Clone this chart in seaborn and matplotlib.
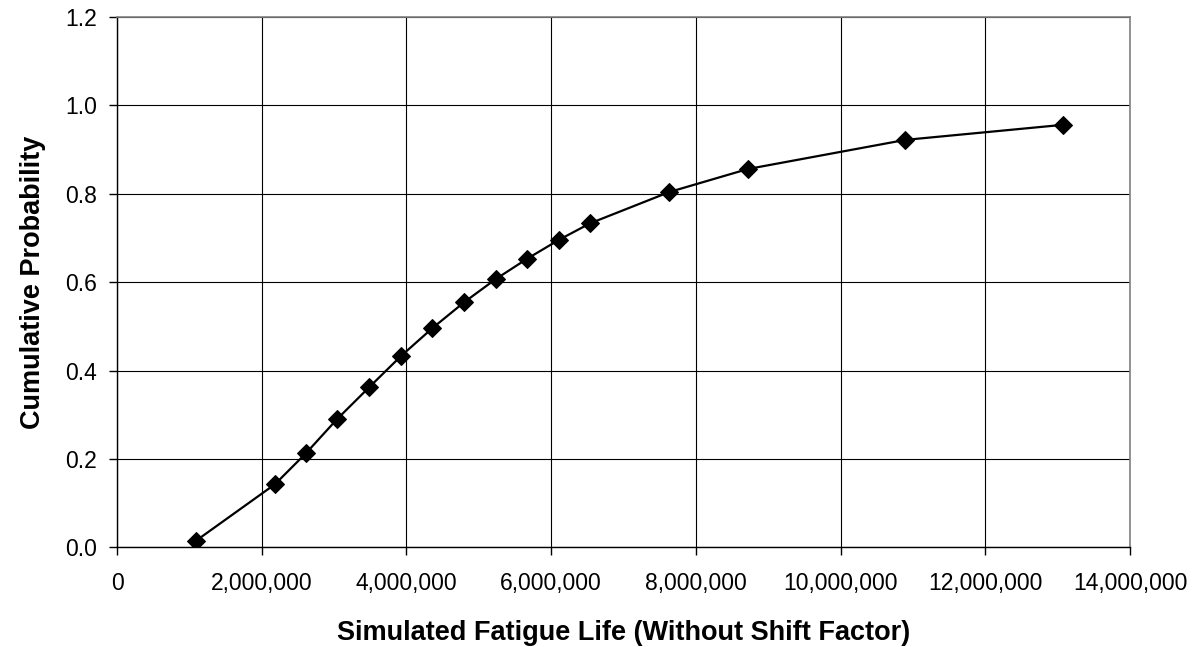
# 累积概率曲线
import matplotlib
matplotlib.use('Agg')
import matplotlib.pyplot as plt
import pandas as pd
import seaborn as sns
from matplotlib.ticker import FuncFormatter

# 数据
fatigue_life = [1092000, 2184000, 2617000, 3040000, 3483000, 3925000, 4358000, 4800000,
                5233000, 5667000, 6109000, 6535000, 7632000, 8715000, 10894000, 13068000]
cum_prob = [0.015, 0.143, 0.214, 0.290, 0.362, 0.433, 0.496, 0.555,
            0.607, 0.653, 0.696, 0.733, 0.804, 0.856, 0.922, 0.956]

x_ticks = [0, 2000000, 4000000, 6000000, 8000000, 10000000, 12000000, 14000000]
y_ticks = [0.0, 0.2, 0.4, 0.6, 0.8, 1.0, 1.2]

data = pd.DataFrame({'life': fatigue_life, 'prob': cum_prob})


def plot_cdf():
    fig = plt.figure(figsize=(12, 6.47), dpi=100)
    ax = fig.add_axes([0.0975, 0.154, 0.8443, 0.8197])

    sns.lineplot(data=data, x='life', y='prob', ax=ax, color='black', linewidth=1.6,
                 marker='D', markersize=9, markeredgecolor='black', markerfacecolor='black')

    ax.set_xlim(0, 14000000)
    ax.set_ylim(0, 1.2)
    ax.set_xticks(x_ticks)
    ax.set_yticks(y_ticks)
    ax.xaxis.set_major_formatter(FuncFormatter(lambda v, p: f'{int(v):,}'))
    ax.yaxis.set_major_formatter(FuncFormatter(lambda v, p: f'{v:.1f}'))

    ax.grid(True, color='black', linewidth=0.8)
    ax.set_axisbelow(True)
    for side in ['top', 'right']:
        ax.spines[side].set_color('#808080')
        ax.spines[side].set_linewidth(1.2)
    for side in ['left', 'bottom']:
        ax.spines[side].set_color('black')
        ax.spines[side].set_linewidth(1.0)

    # seaborn white 风格默认关闭刻度线，这里重新打开
    ax.tick_params(axis='both', direction='out', length=5.5, width=1, color='black',
                   labelsize=16.5, labelcolor='black', bottom=True, left=True)
    ax.tick_params(axis='x', pad=12)
    ax.tick_params(axis='y', pad=9)
    ax.set_xlabel('Simulated Fatigue Life (Without Shift Factor)', fontsize=19.5,
                  fontweight='bold', labelpad=18, color='black')
    ax.set_ylabel('Cumulative Probability', fontsize=19.5, fontweight='bold',
                  labelpad=14, color='black')

    fig.savefig('out.png', dpi=100)


if __name__ == '__main__':
    sns.set_style('white')
    plt.rcParams['font.family'] = ['Liberation Sans', 'DejaVu Sans']
    plot_cdf()
